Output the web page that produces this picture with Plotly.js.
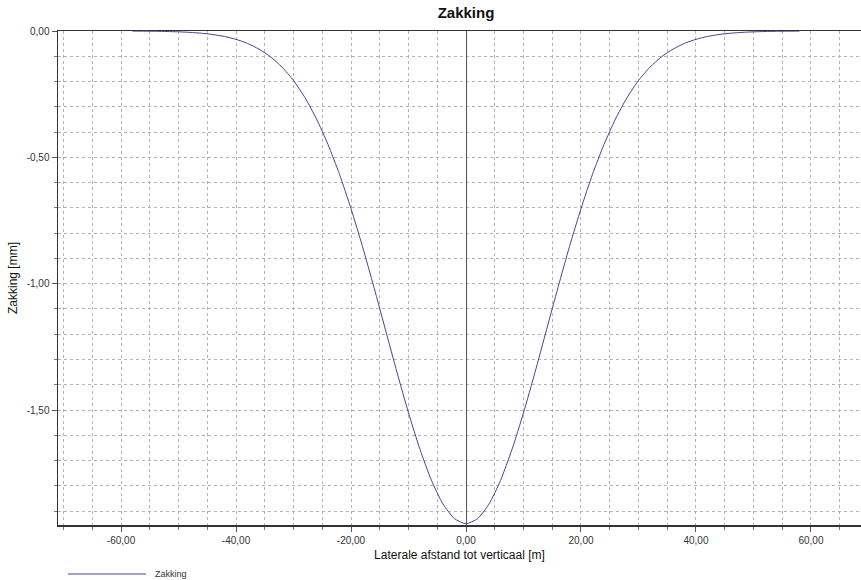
<!DOCTYPE html>
<html>
<head>
<meta charset="utf-8">
<script src="https://cdn.plot.ly/plotly-3.0.1.min.js"></script>
<style>html,body{margin:0;padding:0;background:#fff;}#chart{width:861px;height:580px;}</style>
</head>
<body>
<div id="chart"></div>
<script>
// Lateral distance [m]
const afstand = [-58,-56,-54,-52,-50,-48,-46,-44,-42,-40,-38,-36,-34,-32,-30,-28,-26,-24,-22,-20,-18,-16,-14,-12,-10,-8,-6,-4,-2,0,
  2,4,6,8,10,12,14,16,18,20,22,24,26,28,30,32,34,36,38,40,42,44,46,48,50,52,54,56,58];
// Settlement [mm]
const zakking = [-0.0004,-0.0007,-0.0011,-0.002,-0.0033,-0.0055,-0.0088,-0.014,-0.0217,-0.033,-0.049,-0.072,-0.102,-0.143,-0.196,-0.264,-0.348,-0.449,-0.567,-0.703,-0.853,-1.015,-1.183,-1.351,-1.511,-1.656,-1.779,-1.872,-1.930,-1.950,
  -1.930,-1.872,-1.779,-1.656,-1.511,-1.351,-1.183,-1.015,-0.853,-0.703,-0.567,-0.449,-0.348,-0.264,-0.196,-0.143,-0.102,-0.072,-0.049,-0.033,-0.0217,-0.014,-0.0088,-0.0055,-0.0033,-0.002,-0.0011,-0.0007,-0.0004];

const xTickVals = [-60,-40,-20,0,20,40,60];
const xTickText = ['-60,00','-40,00','-20,00','0,00','20,00','40,00','60,00'];
const yTickVals = [0,-0.5,-1,-1.5];
const yTickText = ['0,00','-0,50','-1,00','-1,50'];

const seriesName = 'Zakking';
const chartTitle = 'Zakking';
const xTitle = 'Laterale afstand tot verticaal [m]';
const yTitle = 'Zakking [mm]';

const FONT = '"Liberation Sans", Arial, sans-serif';
const lineColor = '#45458f';
const gridColor = '#b4b4b4';

const L = 58, T = 31, R = 861, B = 525;
const pw = R - L, ph = B - T;
const px2x = p => (p - L) / pw;
const py2y = p => (B - p) / ph;

const trace = {
  x: afstand, y: zakking, type: 'scatter', mode: 'lines', name: seriesName,
  line: {color: lineColor, width: 1, shape: 'spline', smoothing: 0.6},
  showlegend: false, hoverinfo: 'x+y'
};

const layout = {
  width: 861, height: 580,
  margin: {l: L, r: 861 - R, t: T, b: 580 - B, pad: 0},
  paper_bgcolor: '#fff', plot_bgcolor: '#fff',
  font: {family: FONT, size: 10, color: '#333'},
  title: {text: '<b>' + chartTitle + '</b>', font: {family: FONT, size: 15, color: '#111'},
          x: px2x(466), xref: 'paper', xanchor: 'center', y: 1 - 13/580, yref: 'container', yanchor: 'middle'},
  xaxis: {
    range: [-70.96, 68.7], autorange: false,
    tickmode: 'array', tickvals: xTickVals, ticktext: xTickText,
    ticks: 'outside', ticklen: 5, tickwidth: 1, tickcolor: '#555',
    tickfont: {family: FONT, size: 10, color: '#333'},
    showgrid: true, gridcolor: gridColor, griddash: 'dot', gridwidth: 1,
    minor: {dtick: 5, tick0: 0, showgrid: true, gridcolor: gridColor, griddash: 'dot', gridwidth: 1,
            ticks: 'outside', ticklen: 3, tickcolor: '#777'},
    showline: true, linecolor: '#333', linewidth: 1.5, mirror: true,
    zeroline: true, zerolinecolor: '#555', zerolinewidth: 1,
    title: {text: xTitle, font: {family: FONT, size: 12, color: '#111'}, standoff: 6},
    fixedrange: true
  },
  yaxis: {
    range: [-1.955, 0], autorange: false,
    tickmode: 'array', tickvals: yTickVals, ticktext: yTickText,
    ticks: 'outside', ticklen: 5, tickwidth: 1, tickcolor: '#555',
    tickfont: {family: FONT, size: 10, color: '#333'},
    showgrid: true, gridcolor: gridColor, griddash: 'dot', gridwidth: 1,
    minor: {dtick: 0.1, tick0: 0, showgrid: true, gridcolor: gridColor, griddash: 'dot', gridwidth: 1,
            ticks: 'outside', ticklen: 3, tickcolor: '#777'},
    showline: true, linecolor: '#333', linewidth: 1.5,
    zeroline: false,
    title: {text: yTitle, font: {family: FONT, size: 12, color: '#111'}, standoff: 6},
    fixedrange: true
  },
  shapes: [
    {type: 'line', xref: 'paper', yref: 'paper', x0: px2x(68), x1: px2x(146), y0: py2y(574), y1: py2y(574),
     line: {color: lineColor, width: 1}}
  ],
  annotations: [
    {xref: 'paper', yref: 'paper', x: px2x(153), y: py2y(574), text: seriesName, showarrow: false,
     xanchor: 'left', yanchor: 'middle', font: {family: FONT, size: 9, color: '#333'}}
  ],
  showlegend: false
};

Plotly.newPlot('chart', [trace], layout, {displayModeBar: false, staticPlot: true});
</script>
</body>
</html>
